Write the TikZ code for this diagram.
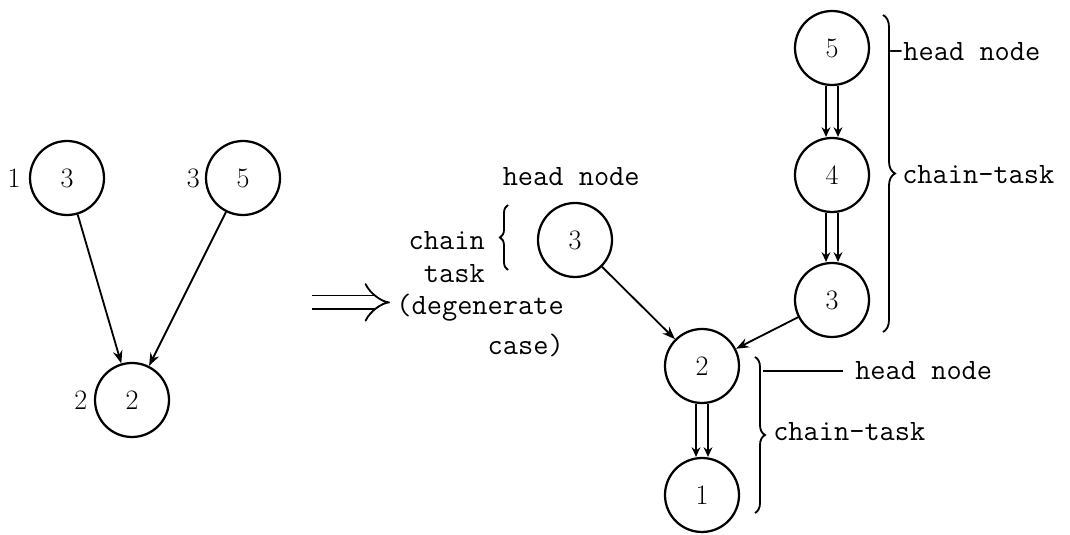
\documentclass[tikz,border=0pt]{standalone}
\usepackage{xcolor}
\usepackage{tikz}
\usetikzlibrary{positioning}
\usetikzlibrary{arrows.meta}
\usetikzlibrary{decorations.pathreplacing}

\begin{document}
\begin{tikzpicture}[
    tasknode/.style={shape=circle, draw=black, line width=1.6pt, minimum size=1.85cm, inner sep=0pt, font=\fontsize{20}{24}\selectfont},
    nodelabel/.style={font=\fontsize{20}{24}\selectfont, inner sep=0pt},
    remark/.style={font=\ttfamily\fontsize{21}{22}\selectfont, inner sep=0pt},
    dep/.style={line width=1.3pt, -{Stealth[length=0.32cm, width=0.24cm]}},
    chainbrace/.style={line width=1.3pt, decorate, decoration={brace, amplitude=#1}},
  ]
    \useasboundingbox (0,0) rectangle (26.75,-13.375);

    % original graph
    \node[tasknode] (L3) at (1.675,-4.45) {3};
    \node[tasknode] (L5) at (6.075,-4.45) {5};
    \node[tasknode] (L2) at (3.3,-10.0) {2};
    \node[nodelabel, left=0.2cm of L3] (w1) {1};
    \node[nodelabel, left=0.12cm of L5] (w3) {3};
    \node[nodelabel, left=0.16cm of L2] (w2) {2};

    \draw[dep] (L3) -- (L2);
    \draw[dep] (L5) -- (L2);

    % transformation arrow
    \coordinate (impl tail) at (7.8,-7.56);
    \coordinate (impl head) at (9.75,-7.56);
    \draw[line width=1.3pt, double distance=0.3cm, -{Implies[length=0.9cm, width=1.2cm]}] (impl tail) -- (impl head);

    \node[remark, align=right, anchor=east] (degen) at (14.1,-8.13) {(degenerate\\[0.22cm]case)};

    % chain-task graph
    \node[tasknode] (M3) at (14.375,-6.0) {3};
    \node[tasknode] (R5) at (20.8,-1.2) {5};
    \node[tasknode] (R4) at (20.8,-4.375) {4};
    \node[tasknode] (R3) at (20.8,-7.5) {3};
    \node[tasknode] (R2) at (17.55,-9.15) {2};
    \node[tasknode] (R1) at (17.55,-12.375) {1};

    \draw[dep] (M3) -- (R2);
    \draw[dep] (R3) -- (R2);

    \foreach \a/\b in {R5/R4, R4/R3, R2/R1}{
        \draw[dep, -{Stealth[length=0.24cm, width=0.22cm]}] ([xshift=-0.15cm]\a.south) -- ([xshift=-0.15cm]\b.north);
        \draw[dep, -{Stealth[length=0.24cm, width=0.22cm]}] ([xshift=0.15cm]\a.south) -- ([xshift=0.15cm]\b.north);
    }

    % braces and their notes
    \node[remark] (hd1) at (14.28,-4.42) {head node};
    \node[remark, align=right, anchor=east] (ct1) at (12.125,-6.42) {chain\\[0.05cm]task};
    \draw[chainbrace=0.2cm] (12.7,-6.75) -- (12.7,-5.125);

    \draw[chainbrace=0.3cm] (22.075,-0.375) -- (22.075,-8.3);
    \node[remark, anchor=west] (hd2) at (22.2,-1.3) {-head node};
    \node[remark, anchor=west] (ct2) at (22.55,-4.375) {chain-task};

    \draw[chainbrace=0.25cm] (18.875,-8.925) -- (18.875,-12.825);
    \node[remark, anchor=west] (hd3) at (21.375,-9.275) {head node};
    \coordinate (lead) at (19.075,-9.275);
    \draw[line width=1.3pt] (lead) -- ([xshift=-0.3cm]hd3.west);
    \node[remark, anchor=west] (ct3) at (19.325,-10.8) {chain-task};
\end{tikzpicture}
\end{document}
